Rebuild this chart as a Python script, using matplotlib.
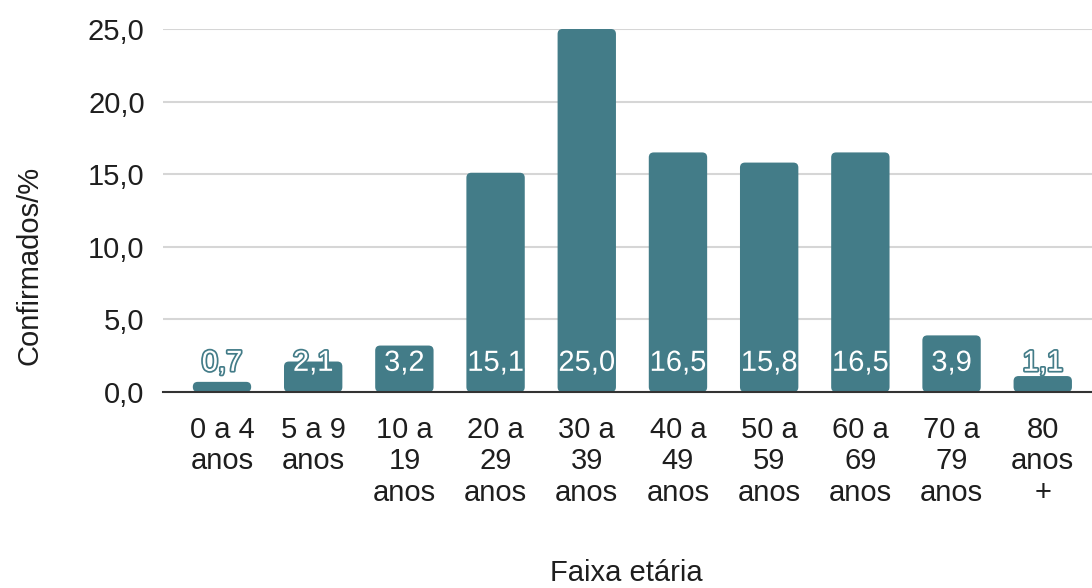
import matplotlib.pyplot as plt
import matplotlib.patheffects as pe
from matplotlib.patches import FancyBboxPatch
from matplotlib.ticker import FuncFormatter

plt.rcParams['font.family'] = ['Liberation Sans', 'DejaVu Sans']

faixas = ["0 a 4\nanos", "5 a 9\nanos", "10 a\n19\nanos", "20 a\n29\nanos", "30 a\n39\nanos",
          "40 a\n49\nanos", "50 a\n59\nanos", "60 a\n69\nanos", "70 a\n79\nanos", "80\nanos\n+"]
confirmados = [0.7, 2.1, 3.2, 15.1, 25.0, 16.5, 15.8, 16.5, 3.9, 1.1]

cor = "#437c88"
largura = 0.64

fig = plt.figure(figsize=(10.92, 5.88), dpi=100)
ax = fig.add_axes([0.149, 0.3333, 0.851, 0.6174])

x = list(range(len(confirmados)))
ax.set_xlim(-0.65, 9.54)
ax.set_ylim(0, 25)

# aspect between y and x data units in pixels, for round corners
bb = ax.get_position()
px_x = bb.width * 1092 / (9.54 + 0.65)
px_y = bb.height * 588 / 25.0
raio = 5 / px_x
for xi, v in zip(x, confirmados):
    p = FancyBboxPatch((xi - largura / 2, 0), largura, v,
                       boxstyle="round,pad=0,rounding_size=%f" % raio,
                       mutation_aspect=px_x / px_y,
                       fc=cor, ec="none", zorder=3)
    ax.add_patch(p)
    ax.annotate(f"{v:.1f}".replace(".", ","), (xi, 0), xytext=(0, 21),
                textcoords="offset points", ha="center", va="center",
                fontsize=21, color="white", zorder=5,
                path_effects=[pe.withStroke(linewidth=2.5, foreground=cor)])

ax.set_yticks([0, 5, 10, 15, 20, 25])
ax.yaxis.set_major_formatter(FuncFormatter(lambda v, _: f"{v:.1f}".replace(".", ",")))
ax.set_xticks(x)
ax.set_xticklabels(faixas, linespacing=1.17)
ax.tick_params(axis="both", length=0, labelsize=21, colors="#1e1e1e")
ax.tick_params(axis="y", pad=13)
ax.tick_params(axis="x", pad=17)

ax.grid(axis="y", color="#d6d6d6", linewidth=1.5, zorder=0)
for s in ["top", "right", "left"]:
    ax.spines[s].set_visible(False)
ax.spines["bottom"].set_color("#333333")
ax.spines["bottom"].set_linewidth(1.5)
ax.spines["bottom"].set_zorder(4)

fig.text(30 / 1092, 1 - 265 / 588, "Confirmados/%", fontsize=21, color="#1e1e1e",
         rotation=90, ha="center", va="center")
fig.text(0.574, 0.025, "Faixa etária", fontsize=21, color="#1e1e1e", ha="center", va="center")

fig.savefig("out.png", dpi=100)
